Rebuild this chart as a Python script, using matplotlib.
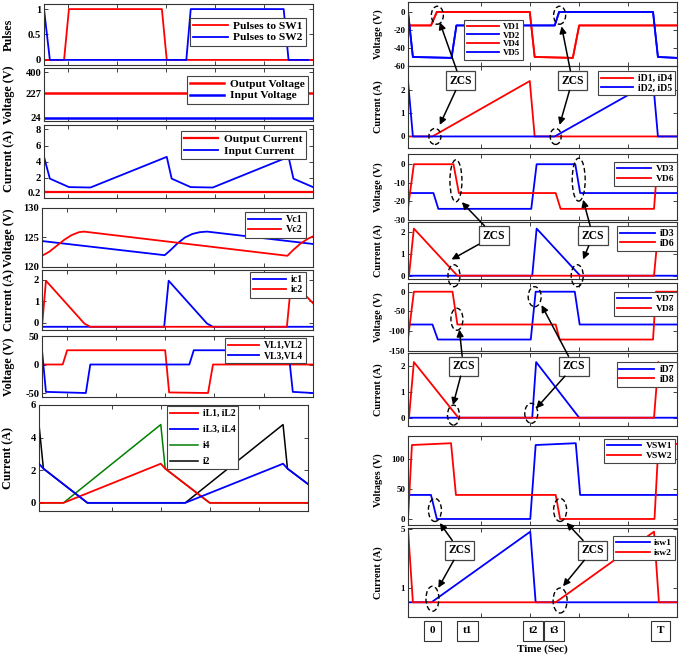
import matplotlib
matplotlib.use("Agg")
import matplotlib.pyplot as plt
from matplotlib.patches import Ellipse, ConnectionPatch
from matplotlib.transforms import ScaledTranslation, blended_transform_factory

plt.rcParams['font.family'] = ['Liberation Serif', 'DejaVu Serif']
plt.rcParams['font.weight'] = 'bold'
plt.rcParams['axes.labelweight'] = 'bold'
plt.rcParams['mathtext.default'] = 'regular'

RED = '#ff0000'
BLUE = '#0000ff'
GREEN = '#008000'
BLACK = '#000000'

# ---------------- data (time in arbitrary units, one tick = 10) ----------------
t_span = [0, 55]
# left column
t_sw1 = [0, 4.1, 5.1, 24.1, 25.1, 55]
p_sw1 = [0, 0, 1, 1, 0, 0]
t_sw2 = [0, 1.2, 29.1, 30.0, 49.0, 50.0, 54]
p_sw2 = [1, 0, 0, 1, 1, 0, 0]

v_out = [227, 227]
v_in = [24, 24]

i_out = [0.2, 0.2]
t_iin = [0, 1.2, 5.1, 9.5, 25.1, 26.1, 30.0, 34.5, 50.0, 51.0, 55]
i_in = [4.6, 1.9, 0.85, 0.8, 4.6, 1.9, 0.85, 0.8, 4.6, 1.9, 0.85]

t_vc1 = [0, 24.9, 26.0, 27.5, 29.0, 30.5, 32.0, 33.5, 55]
vc1 = [124.4, 122.0, 122.8, 124.0, 125.0, 125.6, 125.9, 126.0, 123.9]
t_vc2 = [0, 1.5, 3.0, 4.5, 6.0, 7.5, 8.5, 49.8, 51.0, 52.5, 54.0, 55]
vc2 = [121.9, 122.6, 123.6, 124.6, 125.4, 125.9, 126.0, 121.9, 122.9, 124.0, 124.8, 125.2]

t_ic1 = [0, 24.8, 25.7, 33.5, 34.7, 55]
ic1 = [-0.2, -0.2, 1.95, -0.05, -0.2, -0.2]
t_ic2 = [0, 0.8, 8.6, 9.8, 49.7, 50.6, 55]
ic2 = [-0.2, 1.95, -0.05, -0.2, -0.2, 1.95, 0.9]

t_vl12 = [0, 4.2, 5.1, 25.0, 25.8, 33.7, 34.7, 55]
vl12 = [0, 0, 25, 25, -49, -50, 0, 0]
t_vl34 = [0, 0.8, 8.9, 9.8, 29.9, 30.8, 50.0, 50.9, 55]
vl34 = [25, -48, -50, 0, 0, 25, 25, -48, -50]

t_il12 = [0, 5.0, 24.9, 25.8, 34.9, 55]
il12 = [0, 0, 2.4, 2.1, 0, 0]
t_il34 = [0, 0.9, 9.9, 29.9, 49.9, 50.8, 55]
il34 = [2.4, 2.1, 0, 0, 2.4, 2.1, 1.15]
t_i4 = [0, 5.0, 24.9, 25.8, 34.9, 55]
i4 = [0, 0, 4.8, 2.1, 0, 0]
t_i2 = [0, 0.9, 9.9, 29.9, 49.9, 50.8, 55]
i2 = [4.8, 2.1, 0, 0, 4.8, 2.1, 1.15]

# right column
t_vd14 = [0, 4.7, 5.9, 24.9, 25.9, 33.7, 35.0, 55]
vd14 = [-15, -15, 0, 0, -50, -51, -15, -15]
t_vd25 = [0, 1.0, 8.9, 9.9, 30.0, 30.9, 50.1, 51.1, 55]
vd25 = [0, -50, -51, -15, -15, 0, 0, -50, -51]

t_id14 = [0, 5.0, 24.9, 25.9, 55]
id14 = [0, 0, 2.4, 0, 0]
t_id25 = [0, 1.0, 30.0, 50.1, 51.1, 55]
id25 = [2.4, 0, 0, 2.4, 0, 0]

t_vd3 = [0, 5.2, 6.2, 25.2, 26.3, 34.2, 35.2, 55]
vd3 = [-15.5, -15.5, -24, -24, 0, 0, -15.5, -15.5]
t_vd6 = [0, 1.2, 9.3, 10.4, 30.2, 31.2, 50.3, 51.0, 55]
vd6 = [-23.5, 0, 0, -15.5, -15.5, -24, -24, 0, 0]

t_id3 = [0, 25.4, 26.3, 35.2, 55]
id3 = [0, 0, 2.15, 0, 0]
t_id6 = [0, 0.2, 1.2, 10.1, 50.3, 51.2, 55]
id6 = [0, 0, 2.15, 0, 0, 2.15, 1.2]

t_vd7 = [0, 5.0, 6.1, 25.1, 26.1, 34.1, 35.1, 55]
vd7 = [-83, -83, -121, -121, 0, 0, -83, -83]
t_vd8 = [0, 1.2, 9.1, 10.1, 30.2, 31.0, 50.1, 50.7, 55]
vd8 = [-119, 0, 0, -83, -83, -121, -121, 0, 0]

t_id7 = [0, 25.4, 26.2, 35.0, 55]
id7 = [0, 0, 2.15, 0, 0]
t_id8 = [0, 0.2, 1.2, 10.3, 50.3, 51.2, 55]
id8 = [0, 0, 2.15, 0, 0, 2.15, 1.2]

t_vsw1 = [0, 4.7, 5.9, 25.0, 26.1, 34.3, 35.2, 55]
vsw1 = [40, 40, 0, 0, 123, 126, 40, 40]
t_vsw2 = [0, 0.8, 8.8, 9.8, 30.2, 31.1, 50.4, 51.2, 55]
vsw2 = [0, 123, 126, 40, 40, 0, 0, 123, 125]

t_isw1 = [0, 4.8, 25.0, 26.1, 55]
isw1 = [0, 0, 4.8, 0, 0]
t_isw2 = [0, 1.0, 30.2, 50.3, 51.3, 55]
isw2 = [5.0, 0, 0, 4.8, 0, 0]

time_marks = [5.0, 12.2, 25.6, 29.9, 51.6]
time_mark_labels = ['0', 't1', 't2', 't3', 'T']

# ---------------- figure ----------------
W, H, DPI = 685, 657, 100
fig = plt.figure(figsize=(W / DPI, H / DPI), dpi=DPI)


def make_ax(box, yticks, ylim, xticks, ylabel, labx, tfs, lfs):
    x0, y0, x1, y1 = box
    ax = fig.add_axes([x0 / W, 1 - y1 / H, (x1 - x0) / W, (y1 - y0) / H])
    ax.patch.set_facecolor('none')
    ax.set_xlim(0, 55)
    ax.set_ylim(*ylim)
    ax.set_xticks(xticks)
    ax.set_xticklabels([])
    ax.set_yticks(yticks)
    ax.set_yticklabels([('%g' % v) for v in yticks])
    ax.tick_params(direction='in', length=3, width=0.6, top=True, right=True,
                   labelsize=tfs, pad=2, colors='#222222', labelcolor='black')
    for s in ax.spines.values():
        s.set_linewidth(0.8)
        s.set_color('#333333')
    ax.set_ylabel(ylabel, fontsize=lfs, fontweight='bold')
    ax.yaxis.set_label_coords((labx - x0) / (x1 - x0), 0.5)
    ax.yaxis.label.set_va('bottom')
    ax._box = box
    return ax


def legend(ax, corner, fs, hl, ls=0.15, **kw):
    x0, y0, x1, y1 = ax._box
    bx = (corner[0] - x0) / (x1 - x0)
    by = (y1 - corner[1]) / (y1 - y0)
    lg = ax.legend(loc='upper right', bbox_to_anchor=(bx, by), fontsize=fs,
                   handlelength=hl, handletextpad=0.5, labelspacing=ls,
                   borderpad=0.3, borderaxespad=0, fancybox=False,
                   framealpha=1, edgecolor='#444444', **kw)
    lg.get_frame().set_linewidth(0.8)
    lg.set_zorder(20)
    return lg


LW = 1.3
xt_a = [5, 15, 25, 35, 45]
xt_b = [15, 25, 35, 45]
LT, LL = 7.6, 8.7   # left tick / label font
RT, RL = 6.4, 7.4   # right tick / label font

# Left column
ax = make_ax((44, 4, 313, 65), [0, 0.5, 1], (-0.1, 1.1), xt_a, 'Pulses', 15, LT, LL)
ax.plot(t_sw1, p_sw1, color=RED, lw=LW, label='Pulses to SW1')
ax.plot(t_sw2, p_sw2, color=BLUE, lw=LW, label='Pulses to SW2')
legend(ax, (306, 18), 8.2, 3.0, ls=0.1)

ax = make_ax((44, 68, 313, 121), [24, 227, 400], (-5, 435), xt_a, 'Voltage (V)', 15, LT, LL)
ax.plot(t_span, v_out, color=RED, lw=1.8, label='Output Voltage')
ax.plot(t_span, v_in, color=BLUE, lw=1.8, label='Input Voltage')
legend(ax, (308, 76), 8.2, 3.0, ls=0.1)

ax = make_ax((44, 125, 313, 198), [0.2, 2, 4, 6, 8], (-0.5, 8.55), xt_a, 'Current (A)', 15, LT, LL)
ax.plot(t_span, i_out, color=RED, lw=1.6, label='Output Current')
ax.plot(t_iin, i_in, color=BLUE, lw=LW, label='Input Current')
legend(ax, (306, 131), 8.2, 3.0, ls=0.1)

ax = make_ax((42, 208, 313, 267), [120, 125, 130], (120, 130), xt_a, 'Voltage (V)', 15, LT, LL)
ax.plot(t_vc1, vc1, color=BLUE, lw=LW, label='Vc1')
ax.plot(t_vc2, vc2, color=RED, lw=LW, label='Vc2')
legend(ax, (306, 212), 7.2, 3.3)

ax = make_ax((42, 270, 313, 330), [0, 1, 2], (-0.35, 2.45), xt_a, 'Current (A)', 15, LT, LL)
ax.plot(t_ic1, ic1, color=BLUE, lw=LW, label='ic1')
ax.plot(t_ic2, ic2, color=RED, lw=LW, label='ic2')
legend(ax, (306, 272), 7.2, 3.3)

ax = make_ax((42, 336, 313, 397), [-50, 0, 50], (-57, 50), xt_a, 'Voltage (V)', 15, LT, LL)
ax.plot(t_vl12, vl12, color=RED, lw=LW, label='VL1,VL2')
ax.plot(t_vl34, vl34, color=BLUE, lw=LW, label='VL3,VL4')
legend(ax, (306, 338), 6.9, 3.3)

ax = make_ax((39, 405, 308, 511), [0, 2, 4, 6], (-0.5, 6), xt_b, 'Current (A)', 14, LT, LL)
ax.plot(t_il12, il12, color=RED, lw=LW, label='iL1, iL2', zorder=3)
ax.plot(t_il34, il34, color=BLUE, lw=LW, label='iL3, iL4', zorder=3)
ax.plot(t_i4, i4, color=GREEN, lw=1.1, label='i4', zorder=2)
ax.plot(t_i2, i2, color=BLACK, lw=1.1, label='i2', zorder=2)
legend(ax, (238, 406), 6.9, 2.9, ls=0.75)

# Right column
R = []
ax = make_ax((408, 2, 677, 66), [-60, -40, -20, 0], (-60, 11), xt_b, 'Voltage (V)', 383, RT, RL)
ax.plot(t_vd14, vd14, color=RED, lw=LW, label='VD1')
ax.plot(t_vd25, vd25, color=BLUE, lw=LW, label='VD2')
ax.plot(t_vd14, vd14, color=RED, lw=LW, label='VD4')
ax.plot(t_vd25, vd25, color=BLUE, lw=LW, label='VD5')
legend(ax, (523, 20), 6.4, 3.6, ls=0.05)
R.append(ax)

ax = make_ax((408, 66, 677, 148), [0, 1, 2], (-0.5, 3.05), xt_b, 'Current (A)', 383, RT, RL)
ax.plot(t_id14, id14, color=RED, lw=LW, label='iD1, iD4')
ax.plot(t_id25, id25, color=BLUE, lw=LW, label='iD2, iD5')
legend(ax, (675, 71), 7.0, 3.3, ls=0.05)
R.append(ax)

ax = make_ax((408, 154, 677, 220), [-30, -20, -10, 0], (-30, 5.5), xt_b, 'Voltage (V)', 383, RT, RL)
ax.plot(t_vd3, vd3, color=BLUE, lw=LW, label='VD3')
ax.plot(t_vd6, vd6, color=RED, lw=LW, label='VD6')
legend(ax, (677, 162), 6.8, 3.6, ls=0.1)
R.append(ax)

ax = make_ax((408, 222, 677, 279), [0, 1, 2], (-0.15, 2.45), xt_b, 'Current (A)', 383, RT, RL)
ax.plot(t_id3, id3, color=BLUE, lw=LW, label='iD3')
ax.plot(t_id6, id6, color=RED, lw=LW, label='iD6')
legend(ax, (677, 226), 7.0, 3.6, ls=0.1)
R.append(ax)

ax = make_ax((408, 283, 677, 351), [-150, -100, -50, 0], (-150, 22), xt_b, 'Voltage (V)', 383, RT, RL)
ax.plot(t_vd7, vd7, color=BLUE, lw=LW, label='VD7')
ax.plot(t_vd8, vd8, color=RED, lw=LW, label='VD8')
legend(ax, (677, 292), 6.8, 3.6, ls=0.1)
R.append(ax)

ax = make_ax((408, 353, 677, 426), [0, 1, 2], (-0.32, 2.5), xt_b, 'Current (A)', 383, RT, RL)
ax.plot(t_id7, id7, color=BLUE, lw=LW, label='iD7')
ax.plot(t_id8, id8, color=RED, lw=LW, label='iD8')
legend(ax, (677, 362), 7.0, 3.6, ls=0.1)
R.append(ax)

ax = make_ax((408, 436, 677, 525), [0, 50, 100], (-10, 138), xt_b, 'Voltages (V)', 383, RT, RL)
ax.plot(t_vsw1, vsw1, color=BLUE, lw=LW, label='VSW1')
ax.plot(t_vsw2, vsw2, color=RED, lw=LW, label='VSW2')
legend(ax, (675, 439), 6.8, 3.6, ls=0.1)
R.append(ax)

ax = make_ax((408, 528, 677, 617), [1, 5], (-1, 5.05), xt_b, 'Current (A)', 383, RT, RL)
ax.plot(t_isw1, isw1, color=BLUE, lw=LW, label='isw1')
ax.plot(t_isw2, isw2, color=RED, lw=LW, label='isw2')
legend(ax, (675, 536), 6.8, 3.6, ls=0.1)
R.append(ax)

# time markers under the last panel
tr = blended_transform_factory(ax.transData, ax.transAxes)
for tm, lab in zip(time_marks, time_mark_labels):
    ax.text(tm, -0.157, lab, transform=tr, ha='center', va='center', fontsize=8,
            fontweight='bold', clip_on=False,
            bbox=dict(boxstyle='square,pad=0.5', fc='white', ec='#333333', lw=0.8))
ax.text(0.5, -0.36, 'Time (Sec)', transform=ax.transAxes, ha='center', va='center',
        fontsize=8, fontweight='bold')

# ---------------- ZCS annotations ----------------
def ellipse(ax, t, v, wpx, hpx):
    trf = fig.dpi_scale_trans + ScaledTranslation(t, v, ax.transData)
    e = Ellipse((0, 0), wpx / DPI, hpx / DPI, transform=trf, fill=False,
                ec='black', lw=1.0, ls=(0, (3.5, 2)), zorder=8)
    fig.add_artist(e)


def zcs(bax, bt, bv, targets):
    txt = bax.text(bt, bv, 'ZCS', ha='center', va='center', fontsize=8.4,
                   fontweight='bold', zorder=30,
                   bbox=dict(boxstyle='square,pad=0.3', fc='white', ec='#444444', lw=0.9))
    for tax, tt, tv in targets:
        cp = ConnectionPatch(xyA=(bt, bv), coordsA=bax.transData, xyB=(tt, tv),
                             coordsB=tax.transData, arrowstyle='-|>', mutation_scale=10,
                             lw=1.1, color='black', patchA=txt.get_bbox_patch(),
                             shrinkA=0, shrinkB=0, zorder=9)
        fig.add_artist(cp)


# group A
ellipse(R[0], 6.0, -3.7, 12, 18)
ellipse(R[0], 31.0, -3.7, 12, 18)
ellipse(R[1], 5.5, 0, 12, 16)
ellipse(R[1], 30.2, 0, 11, 16)
zcs(R[1], 10.7, 2.42, [(R[0], 6.5, -11.5), (R[1], 6.5, 0.5)])
zcs(R[1], 33.6, 2.42, [(R[0], 31.4, -16), (R[1], 31.0, 0.5)])
# group B
ellipse(R[2], 9.8, -8.9, 12, 42)
ellipse(R[2], 34.9, -8.3, 13, 43)
ellipse(R[3], 9.4, 0, 12, 22)
ellipse(R[3], 34.6, 0, 12, 22)
zcs(R[3], 17.6, 1.82, [(R[2], 11.0, -20.4), (R[3], 8.9, 0.74)])
zcs(R[3], 37.8, 1.82, [(R[2], 35.8, -19.1), (R[3], 35.8, 0.74)])
# group C
ellipse(R[4], 10.0, -69.7, 12, 22)
ellipse(R[4], 25.9, -12.7, 13, 20)
ellipse(R[5], 9.3, 0.1, 12, 20)
ellipse(R[5], 25.2, 0.17, 13, 20)
zcs(R[5], 11.3, 1.99, [(R[4], 10.5, -95.7), (R[5], 9.2, 0.49)])
zcs(R[5], 33.9, 1.99, [(R[4], 27.3, -33.8), (R[5], 26.2, 0.36)])
# group D
ellipse(R[6], 5.5, 15, 13, 23)
ellipse(R[6], 31.1, 15, 13, 23)
ellipse(R[7], 5.0, 0.24, 13, 25)
ellipse(R[7], 31.1, 0.12, 14, 25)
zcs(R[7], 10.5, 3.53, [(R[6], 6.5, -6.7), (R[7], 6.2, 0.98)])
zcs(R[7], 37.7, 3.53, [(R[6], 32.4, -6.2), (R[7], 31.7, 1.09)])

fig.savefig('out.png', dpi=DPI, facecolor='white')
